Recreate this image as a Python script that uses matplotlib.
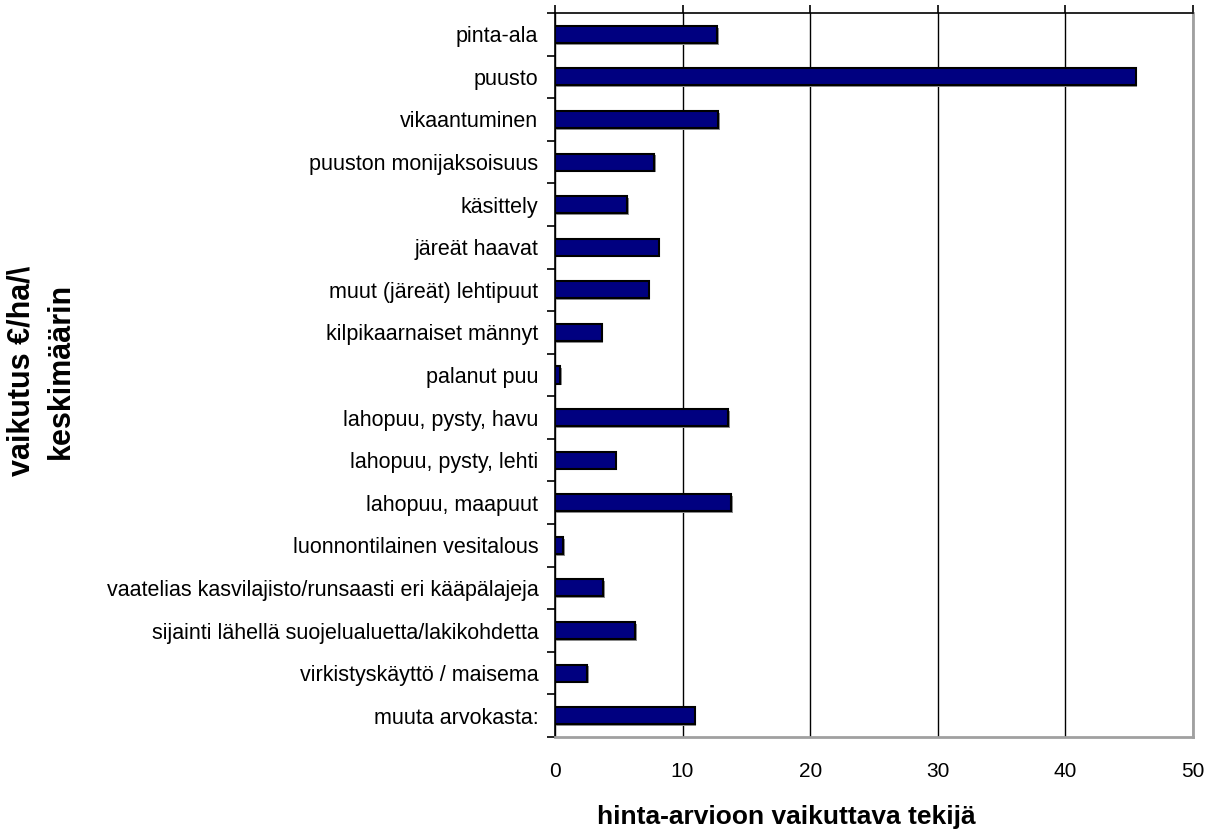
import matplotlib.pyplot as plt
import numpy as np

plt.rcParams['font.family'] = ['Liberation Sans', 'DejaVu Sans']

# categories top to bottom and their mean effect
tekijat = ['pinta-ala', 'puusto', 'vikaantuminen', 'puuston monijaksoisuus',
           'käsittely', 'järeät haavat', 'muut (järeät) lehtipuut',
           'kilpikaarnaiset männyt', 'palanut puu', 'lahopuu, pysty, havu',
           'lahopuu, pysty, lehti', 'lahopuu, maapuut',
           'luonnontilainen vesitalous',
           'vaatelias kasvilajisto/runsaasti eri kääpälajeja',
           'sijainti lähellä suojelualuetta/lakikohdetta',
           'virkistyskäyttö / maisema', 'muuta arvokasta:']
vaikutus = [12.7, 45.5, 12.8, 7.8, 5.65, 8.15, 7.35, 3.65, 0.4, 13.6,
            4.75, 13.8, 0.65, 3.8, 6.3, 2.55, 10.95]
x_ticks = [0, 10, 20, 30, 40, 50]

fig = plt.figure(figsize=(12.13, 8.35), dpi=100)
ax = fig.add_axes([0.4575, 0.1174, 0.526, 0.867])

y = np.arange(len(tekijat))
# shadow then the bar itself
ax.barh(y + 0.04, vaikutus, height=0.4, left=0.12, color='#909090', zorder=2)
ax.barh(y, vaikutus, height=0.4, color='#000080', edgecolor='black',
        linewidth=1.5, zorder=3)

ax.set_xlim(0, 50)
ax.set_ylim(len(tekijat) - 0.5, -0.5)
ax.set_xticks(x_ticks)
ax.grid(axis='x', color='black', linewidth=1, zorder=1)

ax.set_yticks(y)
ax.set_yticklabels(tekijat, fontsize=15.5)
ax.set_yticks(np.arange(len(tekijat) + 1) - 0.5, minor=True)
ax.tick_params(axis='y', which='major', length=0, pad=12)
ax.tick_params(axis='y', which='minor', length=6, width=1.2, direction='out')
ax.tick_params(axis='x', bottom=False, top=True, labelbottom=True,
               labeltop=False, length=6, width=1.2, direction='out',
               labelsize=15, pad=12)

for side in ['top', 'left']:
    ax.spines[side].set_color('black')
    ax.spines[side].set_linewidth(1.2)
for side in ['right', 'bottom']:
    ax.spines[side].set_color('#a0a0a0')
    ax.spines[side].set_linewidth(2)

fig.text(0.648, 0.021, 'hinta-arvioon vaikuttava tekijä', fontsize=19,
         fontweight='bold', ha='center', va='center')
fig.text(0.034, 0.556, 'vaikutus €/ha/\\\nkeskimäärin', fontsize=22,
         fontweight='bold', rotation=90, ha='center', va='center',
         multialignment='center', linespacing=1.4)

fig.savefig('out.png', dpi=100)
